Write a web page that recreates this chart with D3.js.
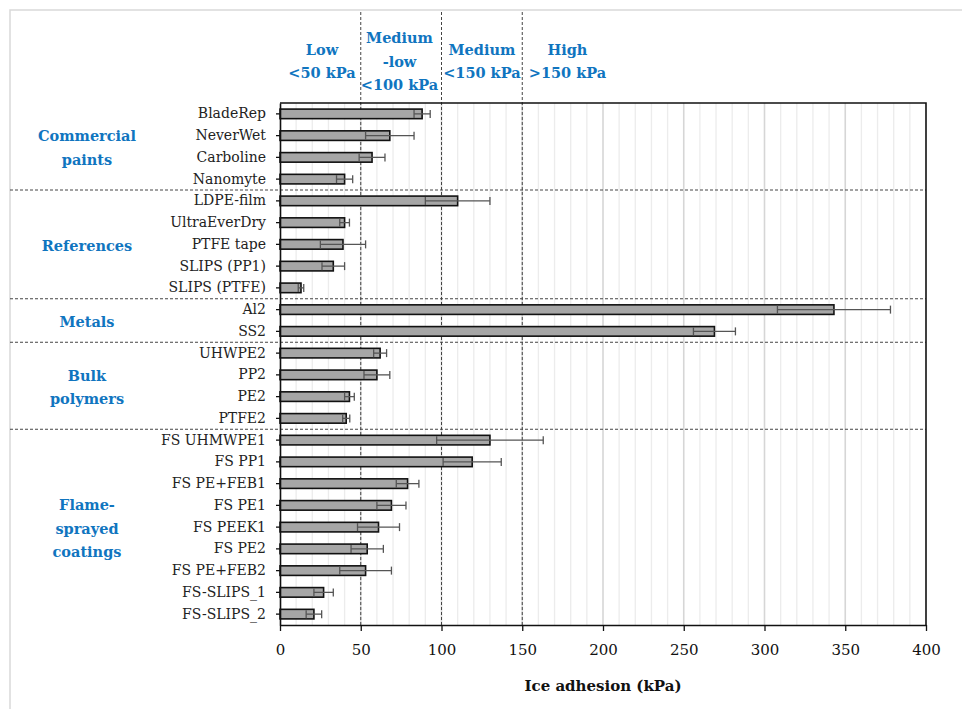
<!DOCTYPE html>
<html>
<head>
<meta charset="utf-8">
<script src="https://cdn.jsdelivr.net/npm/d3@7/dist/d3.min.js"></script>
<style>
  html, body { margin: 0; padding: 0; background: #fff; }
  svg { display: block; }
  text { font-family: "DejaVu Serif", "Liberation Serif", serif; }
</style>
</head>
<body>
<script>
// Ice adhesion by surface, grouped by material family
const categories = [
  "BladeRep", "NeverWet", "Carboline", "Nanomyte",
  "LDPE-film", "UltraEverDry", "PTFE tape", "SLIPS (PP1)", "SLIPS (PTFE)",
  "Al2", "SS2",
  "UHWPE2", "PP2", "PE2", "PTFE2",
  "FS UHMWPE1", "FS PP1", "FS PE+FEB1", "FS PE1", "FS PEEK1", "FS PE2", "FS PE+FEB2", "FS-SLIPS_1", "FS-SLIPS_2"
];
const values = [88, 68, 57, 40, 110, 40, 39, 33, 13, 343, 269, 62, 60, 43, 41, 130, 119, 79, 69, 61, 54, 53, 27, 21];
const errors = [5, 15, 8, 5, 20, 3, 14, 7, 1.7, 35, 13, 4, 8, 3, 2.2, 33, 18, 7, 9, 13, 10, 16, 6, 4.8];

const groupNames = [["Commercial", "paints"], ["References"], ["Metals"], ["Bulk", "polymers"], ["Flame-", "sprayed", "coatings"]];
const groupSizes = [4, 5, 2, 4, 9];

const zoneLabels = [["Low", "<50 kPa"], ["Medium", "-low", "<100 kPa"], ["Medium", "<150 kPa"], ["High", ">150 kPa"]];
const zoneCenters = [26, 74, 125, 178];
const zoneLimits = [50, 100, 150];

const xTicks = [0, 50, 100, 150, 200, 250, 300, 350, 400];
const xTitle = "Ice adhesion (kPa)";

const W = 962, H = 709;
const blue = "#1075bf";

const svg = d3.select("body").append("svg").attr("width", W).attr("height", H);
svg.append("rect").attr("width", W).attr("height", H).attr("fill", "#fff");

// outer frame (top and left edges)
svg.append("path").attr("d", `M10,${H} V10 H${W}`)
  .attr("fill", "none").attr("stroke", "#d9d9d9").attr("stroke-width", 1.5);

const x = d3.scaleLinear().domain([0, 400]).range([280, 926]);
const y = d3.scaleBand().domain(categories).range([103, 625]).paddingInner(0.56).paddingOuter(0.28);
const step = y.step();
const yTop = y.range()[0], yBottom = y.range()[1];

// vertical gridlines every 10 kPa
const gridVals = d3.range(10, 400, 10);
svg.append("g").selectAll("line").data(gridVals).join("line")
  .attr("x1", d => x(d)).attr("x2", d => x(d))
  .attr("y1", yTop).attr("y2", yBottom)
  .attr("stroke", d => d % 50 === 0 ? "#d6d6d6" : "#ececec")
  .attr("stroke-width", d => d % 50 === 0 ? 1.6 : 1.3);

// dashed zone limits
svg.append("g").selectAll("line").data(zoneLimits).join("line")
  .attr("x1", d => x(d)).attr("x2", d => x(d))
  .attr("y1", 12).attr("y2", yBottom)
  .attr("stroke", "#444").attr("stroke-width", 1).attr("stroke-dasharray", "3,2");

// dashed group separators
const cum = d3.cumsum(groupSizes);
svg.append("g").selectAll("line").data(Array.from(cum).slice(0, -1)).join("line")
  .attr("x1", 10).attr("x2", x(400))
  .attr("y1", d => yTop + step * d).attr("y2", d => yTop + step * d)
  .attr("stroke", "#444").attr("stroke-width", 1).attr("stroke-dasharray", "3,2");

// bars
svg.append("g").selectAll("rect").data(categories).join("rect")
  .attr("x", x(0))
  .attr("y", d => y(d))
  .attr("width", (d, i) => x(values[i]) - x(0))
  .attr("height", y.bandwidth())
  .attr("fill", "#a6a6a6").attr("stroke", "#111").attr("stroke-width", 1.6);

// error bars
const eb = svg.append("g").attr("stroke", "#555").attr("stroke-width", 1.3).attr("fill", "none");
categories.forEach((c, i) => {
  const cy = y(c) + y.bandwidth() / 2;
  const x1 = x(values[i] - errors[i]), x2 = x(values[i] + errors[i]);
  eb.append("line").attr("x1", x1).attr("x2", x2).attr("y1", cy).attr("y2", cy);
  eb.append("line").attr("x1", x1).attr("x2", x1).attr("y1", cy - 4).attr("y2", cy + 4);
  eb.append("line").attr("x1", x2).attr("x2", x2).attr("y1", cy - 4).attr("y2", cy + 4);
});

// plot box: top and right edges
svg.append("path").attr("d", `M${x(0)},${yTop} H${x(400)} V${yBottom}`)
  .attr("fill", "none").attr("stroke", "#111").attr("stroke-width", 1.6);

// x axis
const xAxis = svg.append("g").attr("transform", `translate(0,${yBottom})`)
  .call(d3.axisBottom(x).tickValues(xTicks).tickSize(6).tickPadding(13).tickSizeOuter(0));
xAxis.select(".domain").attr("stroke", "#111").attr("stroke-width", 1.6);
xAxis.selectAll(".tick line").attr("stroke", "#111").attr("stroke-width", 1.3);
xAxis.selectAll("text").attr("font-size", 15).attr("fill", "#111")
  .attr("font-family", "DejaVu Serif, serif");

// y axis
const yAxis = svg.append("g").attr("transform", `translate(${x(0)},0)`)
  .call(d3.axisLeft(y).tickSize(4).tickPadding(10).tickSizeOuter(0));
yAxis.select(".domain").attr("stroke", "#111").attr("stroke-width", 1.6);
yAxis.selectAll(".tick line").attr("stroke", "#111").attr("stroke-width", 1.3);
yAxis.selectAll("text").attr("font-size", 14).attr("fill", "#222")
  .attr("font-family", "DejaVu Serif, serif");

// x axis title
svg.append("text").attr("x", (x(0) + x(400)) / 2).attr("y", 691)
  .attr("text-anchor", "middle").attr("font-size", 15).attr("font-weight", "bold")
  .attr("fill", "#111").text(xTitle);

// group labels
let start = 0;
groupNames.forEach((lines, g) => {
  const mid = yTop + step * (start + groupSizes[g] / 2);
  const lh = 23.5;
  const t = svg.append("text").attr("text-anchor", "middle")
    .attr("font-size", 14.5).attr("font-weight", "bold").attr("fill", blue);
  lines.forEach((ln, k) => {
    t.append("tspan").attr("x", 87)
      .attr("y", mid + 6.5 + (k - (lines.length - 1) / 2) * lh)
      .text(ln);
  });
  start += groupSizes[g];
});

// zone headers
zoneLabels.forEach((lines, z) => {
  const lh = 23.5;
  const t = svg.append("text").attr("text-anchor", "middle")
    .attr("font-size", 14.5).attr("font-weight", "bold").attr("fill", blue);
  lines.forEach((ln, k) => {
    t.append("tspan").attr("x", x(zoneCenters[z]))
      .attr("y", 66.5 + (k - (lines.length - 1) / 2) * lh)
      .text(ln);
  });
});
</script>
</body>
</html>
